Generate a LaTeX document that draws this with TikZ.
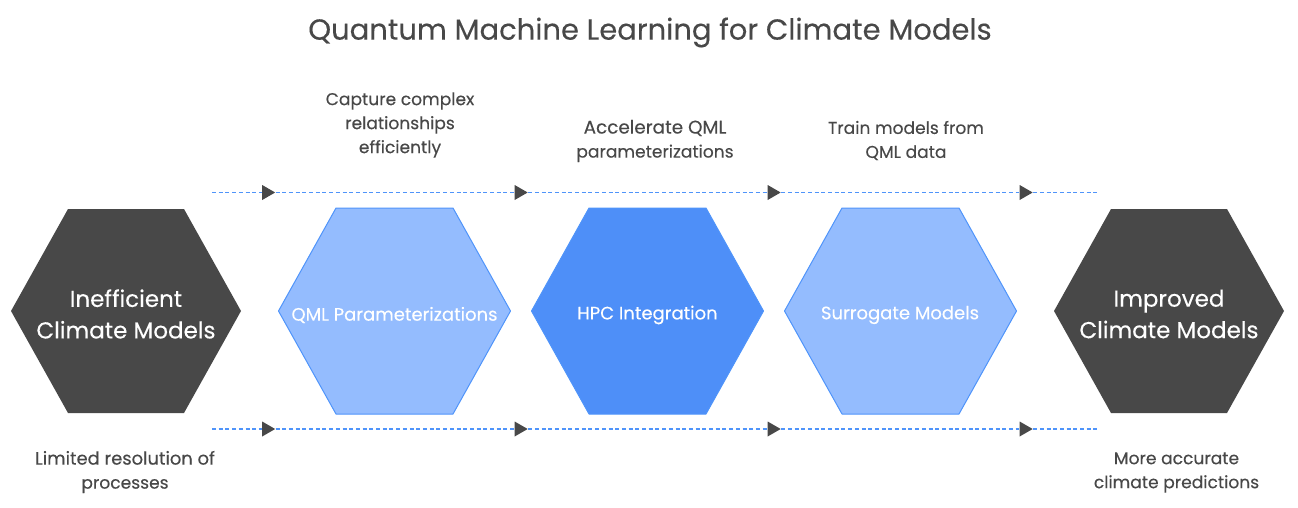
\documentclass[tikz,border=0pt]{standalone}
\usepackage{fontspec}
\setmainfont{Poppins}[FakeBold=0.25]
\usetikzlibrary{shapes.geometric}
\definecolor{darkhex}{HTML}{484848}
\definecolor{lightblue}{HTML}{94BCFE}
\definecolor{midblue}{HTML}{4E8FF8}
\definecolor{edgeblue}{HTML}{4F94FA}
\definecolor{txt}{HTML}{484848}
\tikzset{
  x=1pt,y=-1pt,
  hexfill/.style={draw=edgeblue,line width=1pt,line join=round},
  captext/.style={text=txt,align=center,font=\fontsize{17.1}{24}\selectfont,inner sep=0pt},
  hexlabel/.style={text=white,align=center,inner sep=0pt},
  biglabel/.style={hexlabel,font=\fontsize{23}{31.5}\selectfont},
  smalllabel/.style={hexlabel,font=\fontsize{18}{24}\selectfont},
  tiptri/.style={shape=isosceles triangle,isosceles triangle apex angle=56,fill=darkhex,inner sep=0pt,minimum height=13pt,minimum width=15pt,isosceles triangle stretches=true},
  flowline/.style={draw=edgeblue,line width=1.1pt,dash pattern=on 4pt off 2.7pt},
}
\begin{document}
\begin{tikzpicture}
\useasboundingbox (0,0) rectangle (1298,508);
% hexagons
\fill[darkhex] (68,209) -- (184,209) -- (241,311) -- (184,413) -- (68,413) -- (11,311) -- cycle;
\filldraw[hexfill,fill=lightblue] (336,208) -- (453,208) -- (510.5,311) -- (453,414) -- (336,414) -- (278.5,311) -- cycle;
\filldraw[hexfill,fill=midblue] (589,208) -- (706,208) -- (763.5,311) -- (706,414) -- (589,414) -- (531.5,311) -- cycle;
\filldraw[hexfill,fill=lightblue] (842,208) -- (959,208) -- (1016.5,311) -- (959,414) -- (842,414) -- (784.5,311) -- cycle;
\fill[darkhex] (1111,209) -- (1227,209) -- (1284,311) -- (1227,413) -- (1111,413) -- (1054,311) -- cycle;
% labels
\node[text=txt,inner sep=0pt,font=\fontsize{29}{38}\selectfont] (title) at (650,32.5) {Quantum Machine Learning for Climate Models};
\node[biglabel] (h1) at (126,314) {Inefficient\\Climate Models};
\node[smalllabel] (h2) at (394.5,315) {QML Parameterizations};
\node[smalllabel] (h3) at (647.5,315) {HPC Integration};
\node[smalllabel] (h4) at (900,315) {Surrogate Models};
\node[biglabel] (h5) at (1169,314) {Improved\\Climate Models};
\node[captext] (c2) at (400,125) {Capture complex\\relationships\\efficiently};
\node[captext] (c3) at (655,141) {{\fontsize{18.4}{24}\selectfont Accelerate QML}\\parameterizations};
\node[captext] (c4) at (906,140.5) {Train models from\\QML data};
\node[captext] (c1) at (125,472) {{\fontsize{17.9}{24}\selectfont Limited resolution of}\\processes};
\node[captext] (c5) at (1176.5,472.5) {More accurate\\climate predictions};
% top flow
\coordinate (ts) at (212,192.5);
\coordinate (te) at (1098,192.5);
\node[tiptri] (t1) at (266.5,192.5) {};
\node[tiptri] (t2) at (519,192.5) {};
\node[tiptri] (t3) at (772,192.5) {};
\node[tiptri] (t4) at (1024,192.5) {};
\draw[flowline] (ts) -- (t1) (t1) -- (t2) (t2) -- (t3) (t3) -- (t4) (t4) -- (te);
% bottom flow
\coordinate (bs) at (212,429);
\coordinate (be) at (1098,429);
\node[tiptri] (b1) at (266.5,429) {};
\node[tiptri] (b2) at (519,429) {};
\node[tiptri] (b3) at (772,429) {};
\node[tiptri] (b4) at (1024,429) {};
\draw[flowline] (bs) -- (b1) (b1) -- (b2) (b2) -- (b3) (b3) -- (b4) (b4) -- (be);
\end{tikzpicture}
\end{document}
